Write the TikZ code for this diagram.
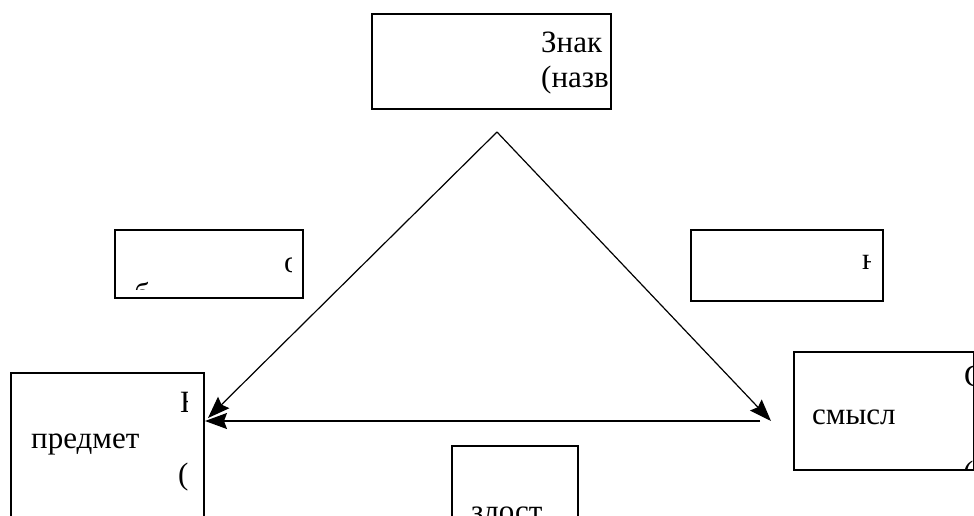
\documentclass[tikz,border=0pt]{standalone}
\usepackage{fontspec}
\setmainfont{Liberation Serif}
\newfontfamily\refserif{Liberation Serif}
\usetikzlibrary{arrows.meta}
\tikzset{
  box/.style={draw, line width=1.7pt, inner sep=0pt, anchor=north west},
  txt/.style={inner sep=0pt, anchor=base west, font=\refserif\fontsize{31}{37}\selectfont},
  link/.style={line width=1.2pt, -{Stealth[length=22pt,width=16pt,inset=3pt]}}
}
\begin{document}
\begin{tikzpicture}[x=1pt,y=-1pt]
\useasboundingbox (0,0) rectangle (974,516);
\clip (0,0) rectangle (974,516);
% boxes
\node[box, minimum width=239pt, minimum height=95pt] (sign) at (371,13) {};
\node[box, minimum width=188pt, minimum height=68pt] (lmid) at (114,229) {};
\node[box, minimum width=192pt, minimum height=71pt] (rmid) at (690,229) {};
\node[box, minimum width=193pt, minimum height=160pt] (obj) at (10,372) {};
\node[box, minimum width=180pt, minimum height=118pt] (sense) at (793,351) {};
\node[box, minimum width=126pt, minimum height=90pt] (bot) at (451,445) {};
% clipped texts
\begin{scope}
  \clip (371,13) rectangle (607,108);
  \node[txt] (t1) at (541,53) {Знак};
  \node[txt] (t2) at (541,88) {(название)};
\end{scope}
\begin{scope}
  \clip (114,229) rectangle (291,289);
  \node[txt] (t3) at (284,272) {о};
  \node[txt] (t4) at (134,304) {б};
\end{scope}
\begin{scope}
  \clip (690,229) rectangle (870,300);
  \node[txt] (t5) at (862,269) {н};
\end{scope}
\begin{scope}
  \clip (10,372) rectangle (187,516);
  \node[txt] (t6) at (180,412) {Н};
  \node[txt] (t7) at (31,448) {предмет};
  \node[txt] (t8) at (178,484) {(};
\end{scope}
\begin{scope}
  \clip (793,351) rectangle (972,468);
  \node[txt] (t9) at (964,386) {С};
  \node[txt] (t10) at (812,424) {смысл};
  \node[txt] (t11) at (963,482) {(};
\end{scope}
\begin{scope}
  \clip (451,445) rectangle (577,516);
  \node[txt] (t12) at (471,521) {злост};
\end{scope}
% triangle
\coordinate (apex) at (497,132);
\coordinate (ltip) at (208,418);
\coordinate (rtip) at (771,421);
\coordinate (hstart) at (760,421);
\coordinate (htip) at (205,421);
\draw[link] (apex) -- (ltip);
\draw[link] (apex) -- (rtip);
\draw[link] (hstart) -- (htip);
\end{tikzpicture}
\end{document}
